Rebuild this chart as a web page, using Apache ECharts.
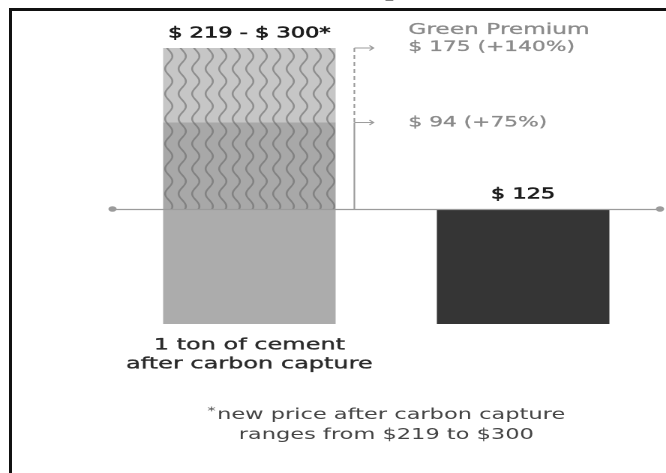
<!DOCTYPE html>
<html>
<head>
<meta charset="utf-8">
<script src="https://cdn.jsdelivr.net/npm/echarts@6/dist/echarts.min.js"></script>
<style>
  html, body { margin: 0; padding: 0; background: #fff; overflow: hidden; }
  #wrap { width: 666px; height: 473px; overflow: hidden; }
  /* the reference is stretched sideways, so draw narrow and widen it */
  #chart { width: 444px; height: 473px; transform: scaleX(1.5); transform-origin: 0 0; }
</style>
</head>
<body>
<div id="wrap"><div id="chart"></div></div>
<script>
const categories = ['1 ton of cement\nafter carbon capture', '1 ton of cement']
const baseCost = [125, 125]
const premiumLow = [94, null]     // 125 -> 219
const premiumExtra = [81, null]   // 219 -> 300
const topLabels = ['$ 219 - $ 300*', '$ 125']
const premiumLevels = [300, 219]
const premiumNotes = ['$ 175 (+140%)', '$ 94 (+75%)']
const premiumTitle = 'Green Premium'
const footnote = ['new price after carbon capture', 'ranges from $219 to $300']
const chartTitle = 'With carbon capture'

const FONT = 'DejaVu Sans'
const barWidth = 115
const gray = '#9b9b9b'

function wavePattern(bg, stroke) {
  const c = document.createElement('canvas')
  c.width = 18
  c.height = 50
  const ctx = c.getContext('2d')
  ctx.fillStyle = bg
  ctx.fillRect(0, 0, c.width, c.height)
  ctx.strokeStyle = stroke
  ctx.lineWidth = 2.6
  ctx.beginPath()
  for (let y = -2; y <= 52; y++) {
    const x = 9 + 4.8 * Math.sin(y / 50 * Math.PI * 2)
    if (y === -2) ctx.moveTo(x, y)
    else ctx.lineTo(x, y)
  }
  ctx.stroke()
  return { image: c, repeat: 'repeat', scaleX: 0.5, scaleY: 0.5 }
}

const chart = echarts.init(document.getElementById('chart'), null, { devicePixelRatio: 2 })

const labelStyle = {
  position: 'top',
  distance: 7,
  fontFamily: FONT,
  fontSize: 15,
  color: '#1c1c1c',
  textBorderColor: '#1c1c1c',
  textBorderWidth: 0.6
}

chart.setOption({
  animation: false,
  grid: { left: 75, right: 4, top: 48, bottom: 149 },
  xAxis: {
    type: 'category',
    data: categories,
    axisLine: { show: false },
    axisTick: { show: false },
    axisLabel: {
      margin: 12,
      fontFamily: FONT,
      fontSize: 16,
      lineHeight: 19,
      color: '#2a2a2a',
      textBorderColor: '#2a2a2a',
      textBorderWidth: 0.35
    }
  },
  yAxis: {
    type: 'value',
    min: 0,
    max: 300,
    show: false
  },
  series: [
    {
      name: 'base',
      type: 'bar',
      stack: 'price',
      barWidth: barWidth,
      data: baseCost.map((v, i) => ({
        value: v,
        itemStyle: { color: i === 0 ? '#acacac' : '#353535' },
        label: { show: i === 1 }
      })),
      label: Object.assign({}, labelStyle, { formatter: p => topLabels[p.dataIndex] }),
      markLine: {
        silent: true,
        symbol: ['circle', 'circle'],
        symbolSize: 5.5,
        label: { show: false },
        lineStyle: { color: gray, type: 'solid', width: 1.2 },
        data: [{ yAxis: baseCost[1] }]
      },
      z: 2
    },
    {
      name: 'premiumLow',
      type: 'bar',
      stack: 'price',
      barWidth: barWidth,
      data: premiumLow,
      itemStyle: { color: wavePattern('#a8a8a8', '#828282') }
    },
    {
      name: 'premiumExtra',
      type: 'bar',
      stack: 'price',
      barWidth: barWidth,
      data: premiumExtra.map((v, i) => ({ value: v, label: { show: i === 0 } })),
      itemStyle: { color: wavePattern('#c6c6c6', '#8e8e8e') },
      label: Object.assign({}, labelStyle, { formatter: p => topLabels[p.dataIndex] })
    }
  ]
})

// bracket + arrows + notes, placed from the chart's own scale
const px = (i, v) => chart.convertToPixel({ gridIndex: 0 }, [i, v])
const cx0 = px(0, 0)[0]
const cx1 = px(1, 0)[0]
const yTop = px(0, premiumLevels[0])[1]
const yMid = px(0, premiumLevels[1])[1]
const yBase = px(0, baseCost[1])[1]
const bx = cx0 + barWidth / 2 + 12.5
const midX = (cx0 + cx1) / 2

const noteText = {
  fontFamily: FONT,
  fontSize: 14.5,
  fill: '#8a8a8a',
  stroke: '#8a8a8a',
  lineWidth: 0.3,
  align: 'left',
  verticalAlign: 'middle'
}

const graphics = [
  // frame
  { type: 'line', shape: { x1: 7, y1: 9.5, x2: 444, y2: 9.5 }, style: { stroke: '#111', lineWidth: 3 } },
  { type: 'line', shape: { x1: 7, y1: 8, x2: 7, y2: 473 }, style: { stroke: '#111', lineWidth: 2 } },
  {
    type: 'text', x: 214, y: 1,
    style: { text: chartTitle, font: 'bold 20px "Liberation Serif"', fill: '#000', align: 'center', verticalAlign: 'bottom' }
  },
  // bracket
  { type: 'line', shape: { x1: bx, y1: yTop, x2: bx, y2: yMid }, style: { stroke: gray, lineWidth: 1.1, lineDash: [4, 3] } },
  { type: 'line', shape: { x1: bx, y1: yMid, x2: bx, y2: yBase }, style: { stroke: gray, lineWidth: 1.1 } },
  {
    type: 'text', x: bx + 36, y: yTop - 18,
    style: Object.assign({}, noteText, { text: premiumTitle, fontSize: 15.5 })
  },
  // footnote
  {
    type: 'text', x: midX, y: 415,
    style: {
      text: '{s|*}{t|' + footnote[0] + '}',
      align: 'center',
      verticalAlign: 'middle',
      rich: {
        s: { fontFamily: FONT, fontSize: 11, fill: '#444', padding: [0, 1, 7, 0] },
        t: { fontFamily: FONT, fontSize: 15, fill: '#444' }
      }
    }
  },
  {
    type: 'text', x: midX, y: 435,
    style: {
      text: footnote[1], fontFamily: FONT, fontSize: 15, fill: '#444',
      align: 'center', verticalAlign: 'middle'
    }
  }
]

premiumLevels.forEach((lvl, i) => {
  const y = px(0, lvl)[1]
  graphics.push(
    { type: 'line', shape: { x1: bx, y1: y, x2: bx + 12.5, y2: y }, style: { stroke: gray, lineWidth: 1 } },
    { type: 'polyline', shape: { points: [[bx + 10, y - 2.5], [bx + 12.8, y], [bx + 10, y + 2.5]] }, style: { stroke: gray, lineWidth: 1, fill: null } },
    { type: 'text', x: bx + 36, y: y - (i === 0 ? 1 : 0), style: Object.assign({}, noteText, { text: premiumNotes[i] }) }
  )
})

chart.setOption({ graphic: { elements: graphics } })
</script>
</body>
</html>
